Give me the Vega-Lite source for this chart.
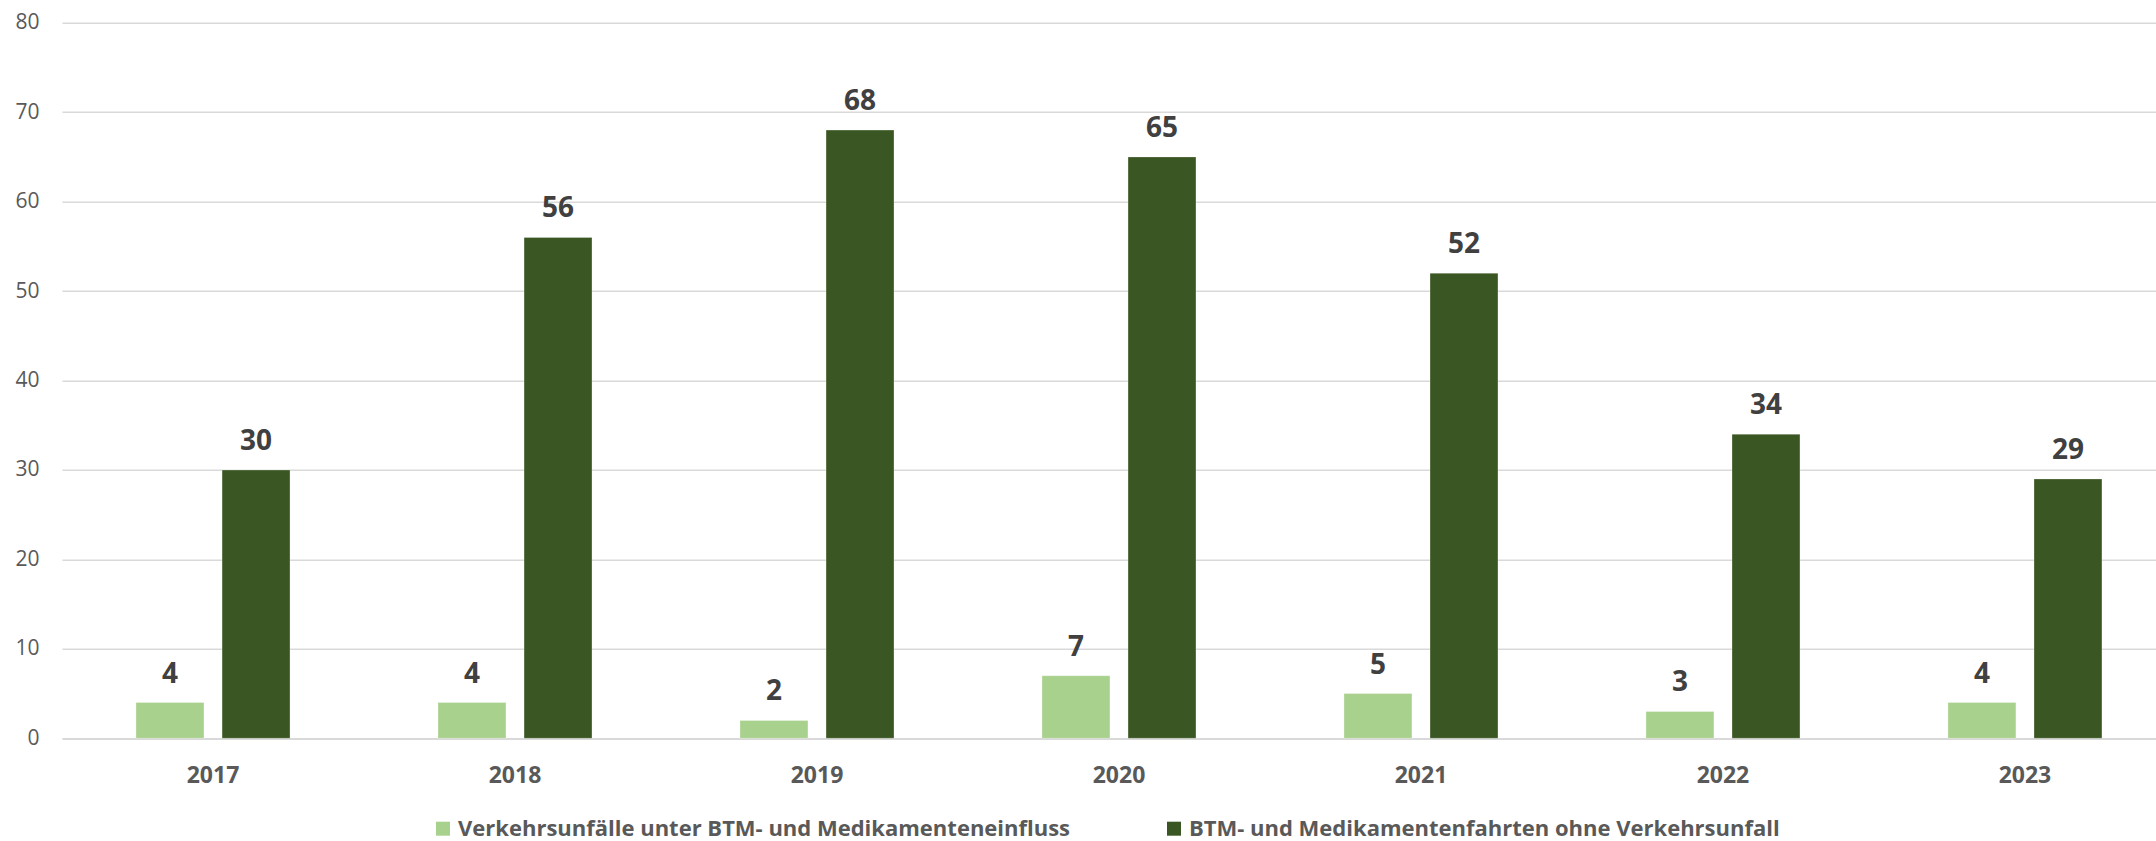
{
  "$schema": "https://vega.github.io/schema/vega-lite/v6.json",
  "autosize": {"type": "none"},
  "padding": {"left": 62, "top": 22.7, "right": 0, "bottom": 102.7},
  "width": 2094,
  "height": 715.6,
  "background": "white",
  "config": {"view": {"stroke": null}, "font": "Open Sans"},
  "data": {
    "values": [
      {"year": "2017", "series": "Verkehrsunfälle unter BTM- und Medikamenteneinfluss", "value": 4},
      {"year": "2017", "series": "BTM- und Medikamentenfahrten ohne Verkehrsunfall", "value": 30},
      {"year": "2018", "series": "Verkehrsunfälle unter BTM- und Medikamenteneinfluss", "value": 4},
      {"year": "2018", "series": "BTM- und Medikamentenfahrten ohne Verkehrsunfall", "value": 56},
      {"year": "2019", "series": "Verkehrsunfälle unter BTM- und Medikamenteneinfluss", "value": 2},
      {"year": "2019", "series": "BTM- und Medikamentenfahrten ohne Verkehrsunfall", "value": 68},
      {"year": "2020", "series": "Verkehrsunfälle unter BTM- und Medikamenteneinfluss", "value": 7},
      {"year": "2020", "series": "BTM- und Medikamentenfahrten ohne Verkehrsunfall", "value": 65},
      {"year": "2021", "series": "Verkehrsunfälle unter BTM- und Medikamenteneinfluss", "value": 5},
      {"year": "2021", "series": "BTM- und Medikamentenfahrten ohne Verkehrsunfall", "value": 52},
      {"year": "2022", "series": "Verkehrsunfälle unter BTM- und Medikamenteneinfluss", "value": 3},
      {"year": "2022", "series": "BTM- und Medikamentenfahrten ohne Verkehrsunfall", "value": 34},
      {"year": "2023", "series": "Verkehrsunfälle unter BTM- und Medikamenteneinfluss", "value": 4},
      {"year": "2023", "series": "BTM- und Medikamentenfahrten ohne Verkehrsunfall", "value": 29}
    ]
  },
  "encoding": {
    "x": {
      "field": "year", "type": "nominal",
      "scale": {"paddingInner": 0.49, "paddingOuter": 0.212, "align": 0.578},
      "axis": {
        "title": null, "labelAngle": 0, "ticks": false, "tickSize": 0,
        "labelPadding": 44, "labelBaseline": "alphabetic",
        "labelFont": "Open Sans", "labelFontWeight": "bold", "labelFontSize": 23,
        "labelColor": "#595959", "domainColor": "#D9D9D9", "domainWidth": 1.5, "grid": false
      }
    },
    "xOffset": {
      "field": "series", "type": "nominal",
      "sort": ["Verkehrsunfälle unter BTM- und Medikamenteneinfluss", "BTM- und Medikamentenfahrten ohne Verkehrsunfall"],
      "scale": {"paddingInner": 0.21, "paddingOuter": 0}
    },
    "y": {
      "field": "value", "type": "quantitative",
      "scale": {"domain": [0, 80], "nice": false},
      "axis": {
        "title": null, "values": [0, 10, 20, 30, 40, 50, 60, 70, 80],
        "ticks": false, "tickSize": 0, "domain": false, "labelPadding": 23,
        "labelFont": "Open Sans", "labelFontSize": 21, "labelColor": "#595959",
        "gridColor": "#D9D9D9", "gridWidth": 1.5
      }
    }
  },
  "layer": [
    {
      "mark": {"type": "bar", "stroke": "white", "strokeWidth": 0.5, "strokeOpacity": 0.6},
      "encoding": {
        "color": {
          "field": "series", "type": "nominal",
          "sort": ["Verkehrsunfälle unter BTM- und Medikamenteneinfluss", "BTM- und Medikamentenfahrten ohne Verkehrsunfall"],
          "scale": {
            "domain": ["Verkehrsunfälle unter BTM- und Medikamenteneinfluss", "BTM- und Medikamentenfahrten ohne Verkehrsunfall"],
            "range": ["#A9D18E", "#3A5723"]
          },
          "legend": {
            "title": null, "orient": "none", "direction": "horizontal",
            "legendX": 370, "legendY": 795,
            "symbolType": "square", "symbolSize": 196, "symbolStrokeWidth": 0,
            "labelFont": "Open Sans", "labelFontWeight": "bold", "labelFontSize": 22,
            "labelColor": "#595959", "labelOffset": 4, "columnPadding": 92,
            "labelLimit": 1000
          }
        }
      }
    },
    {
      "mark": {"type": "text", "baseline": "alphabetic", "dy": -20, "font": "Open Sans", "fontWeight": "bold", "fontSize": 28, "color": "#404040"},
      "encoding": {
        "text": {"field": "value", "type": "quantitative"}
      }
    }
  ]
}
